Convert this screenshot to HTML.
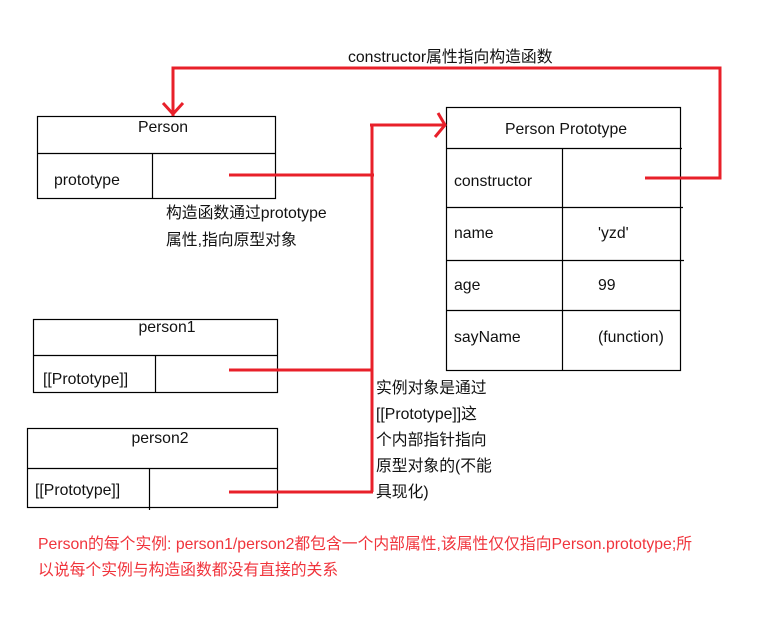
<!DOCTYPE html>
<html><head><meta charset="utf-8"><style>
html,body{margin:0;padding:0;background:#fff;width:784px;height:620px;overflow:hidden}
svg text{font-family:"Liberation Sans","Noto Sans CJK SC",sans-serif;font-size:15.8px;fill:#111}
</style></head><body>
<svg width="784" height="620" xmlns="http://www.w3.org/2000/svg">
<g fill="none" stroke="#000" stroke-width="1.2">
<rect x="37.5" y="116.5" width="238" height="82"/>
<line x1="37" y1="153.5" x2="275" y2="153.5"/>
<line x1="152.5" y1="153" x2="152.5" y2="198"/>
<rect x="446.5" y="107.5" width="234" height="263"/>
<line x1="446" y1="148.5" x2="682" y2="148.5"/>
<line x1="446" y1="207.5" x2="683" y2="207.5"/>
<line x1="446" y1="260.5" x2="684" y2="260.5"/>
<line x1="446" y1="310.5" x2="680" y2="310.5"/>
<line x1="562.5" y1="148" x2="562.5" y2="370"/>
<rect x="33.5" y="319.5" width="244" height="73"/>
<line x1="33" y1="355.5" x2="278" y2="355.5"/>
<line x1="155.5" y1="355" x2="155.5" y2="392"/>
<rect x="27.5" y="428.5" width="250" height="79"/>
<line x1="27" y1="468.5" x2="278" y2="468.5"/>
<line x1="149.5" y1="468" x2="149.5" y2="510"/>
</g>
<g fill="none" stroke="#e8202a" stroke-width="3">
<polyline points="173,116 173,68 720,68 720,178 645,178"/>
<polyline points="163,103 173,114 183,103"/>
<line x1="229" y1="175" x2="374" y2="175"/>
<line x1="372" y1="125" x2="372" y2="492"/>
<line x1="370" y1="125" x2="446" y2="125"/>
<polyline points="438,113 445,125 435,137"/>
<line x1="229" y1="370" x2="373" y2="370"/>
<line x1="229" y1="492" x2="373" y2="492"/>
</g>
<text x="348" y="62">constructor属性指向构造函数</text>
<text x="163" y="132" text-anchor="middle">Person</text>
<text x="54" y="185">prototype</text>
<text x="166" y="218">构造函数通过prototype</text>
<text x="166" y="245">属性,指向原型对象</text>
<text x="566" y="134" text-anchor="middle">Person Prototype</text>
<text x="454" y="186">constructor</text>
<text x="454" y="238">name</text>
<text x="598" y="238">'yzd'</text>
<text x="454" y="290">age</text>
<text x="598" y="290">99</text>
<text x="454" y="342">sayName</text>
<text x="598" y="342">(function)</text>
<text x="167" y="332" text-anchor="middle">person1</text>
<text x="43" y="384">[[Prototype]]</text>
<text x="160" y="443" text-anchor="middle">person2</text>
<text x="35" y="495">[[Prototype]]</text>
<text x="376" y="393">实例对象是通过</text>
<text x="376" y="419">[[Prototype]]这</text>
<text x="376" y="445">个内部指针指向</text>
<text x="376" y="471">原型对象的(不能</text>
<text x="376" y="497">具现化)</text>
<text x="38" y="549" style="fill:#f0343c">Person的每个实例: person1/person2都包含一个内部属性,该属性仅仅指向Person.prototype;所</text>
<text x="38" y="575" style="fill:#f0343c">以说每个实例与构造函数都没有直接的关系</text>
</svg>
</body></html>
